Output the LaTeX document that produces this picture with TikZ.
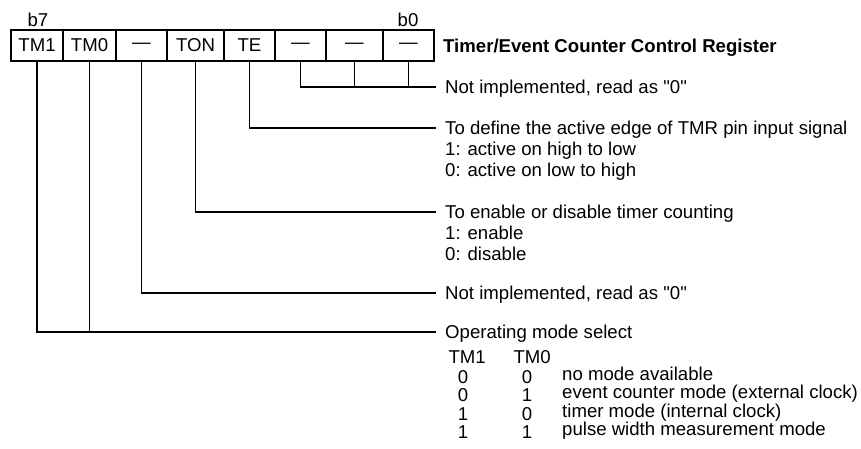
\documentclass[tikz,border=0pt]{standalone}
\usepackage{fontspec}
\setmainfont{Liberation Sans}[Ligatures=TeXOff]

\begin{document}
\begin{tikzpicture}[x=1pt, y=-1pt,
  every node/.style={font=\fontsize{18.6}{21}\selectfont},
  cell/.style={draw, line width=1.4pt, minimum height=31pt, inner sep=0pt},
  desc/.style={anchor=west, inner xsep=9pt, inner ysep=0pt, text height=13.4pt, text depth=0pt}]

\useasboundingbox (0,0) rectangle (861,448);

% register bits b7 ... b0
\node [cell, minimum width=52pt] (tm1) at (37,45.5)    {TM1};
\node [cell, minimum width=53pt] (tm0) at (89.5,45.5)  {TM0};
\node [cell, minimum width=51pt] (b5)  at (141.5,45.5) {—};
\node [cell, minimum width=57pt] (ton) at (195.5,45.5) {TON};
\node [cell, minimum width=51pt] (te)  at (249.5,45.5) {TE};
\node [cell, minimum width=51pt] (b2)  at (300.5,45.5) {—};
\node [cell, minimum width=57pt] (b1)  at (354.5,45.5) {—};
\node [cell, minimum width=51pt] (b0)  at (408.5,45.5) {—};

\node [anchor=base] (msb) at (38,26)  {b7};
\node [anchor=base] (lsb) at (408,26) {b0};

\node [desc] (title) at (434,46) {\textbf{Timer/Event Counter Control Register}};

% descriptions
\node [desc] (niLow)  at (436,87)  {Not implemented, read as "0"};

\node [desc] (teHead) at (436,128) {To define the active edge of TMR pin input signal};
\node [desc] (teOne)  at (436,149) {1: active on high to low};
\node [desc] (teZero) at (436,170) {0: active on low to high};

\node [desc] (tonHead) at (436,212) {To enable or disable timer counting};
\node [desc] (tonOne)  at (436,233) {1: enable};
\node [desc] (tonZero) at (436,254) {0: disable};

\node [desc] (niHigh) at (436,293) {Not implemented, read as "0"};

\node [desc] (opHead) at (436,332) {Operating mode select};

% mode table
\node [anchor=base west] (hdOne) at (445,363) {TM1};
\node [anchor=base west] (hdTwo) at (510,363) {TM0};

\node [anchor=base] (r1a) at (463,383)   {0};
\node [anchor=base] (r1b) at (527,383)   {0};
\node [anchor=base west, inner xsep=0pt] (r1t) at (562,380)   {no mode available};
\node [anchor=base] (r2a) at (463,401.5) {0};
\node [anchor=base] (r2b) at (527,401.5) {1};
\node [anchor=base west, inner xsep=0pt] (r2t) at (562,398.5) {event counter mode (external clock)};
\node [anchor=base] (r3a) at (463,420)   {1};
\node [anchor=base] (r3b) at (527,420)   {0};
\node [anchor=base west, inner xsep=0pt] (r3t) at (562,417)   {timer mode (internal clock)};
\node [anchor=base] (r4a) at (463,438.5) {1};
\node [anchor=base] (r4b) at (527,438.5) {1};
\node [anchor=base west, inner xsep=0pt] (r4t) at (562,435.5) {pulse width measurement mode};

\begin{scope}[line width=1.2pt]
\draw (b2.south) |- (niLow.west);
\draw (b1.south) -- (b1.south |- niLow.west);
\draw (b0.south) -- (b0.south |- niLow.west);

\draw (te.south) |- (teHead.west);
\draw (ton.south) |- (tonHead.west);
\draw (b5.south) |- (niHigh.west);

\draw (tm1.south) |- (opHead.west);
\draw (tm0.south) -- (tm0.south |- opHead.west);
\end{scope}

\end{tikzpicture}
\end{document}
